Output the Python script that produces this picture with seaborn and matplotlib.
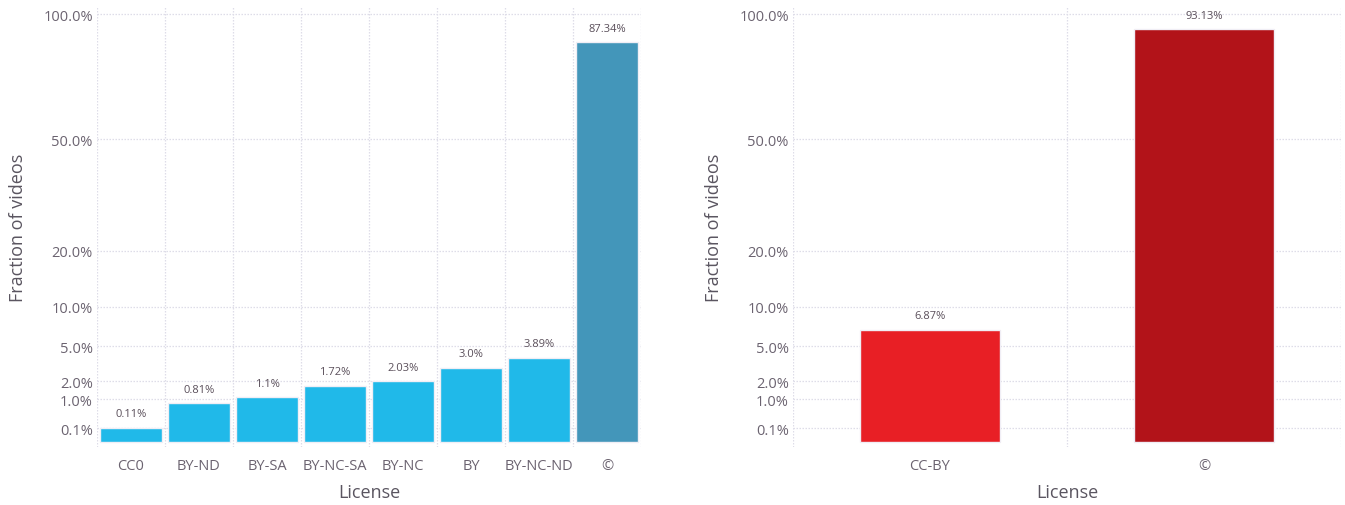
import numpy as np
import pandas as pd
import matplotlib
matplotlib.use("Agg")
import matplotlib.pyplot as plt
import seaborn as sns
from matplotlib.ticker import FixedLocator

sns.set_theme(style="white")
plt.rcParams['font.family'] = ['Open Sans', 'DejaVu Sans']

# Data
left_licenses = ["CC0", "BY-ND", "BY-SA", "BY-NC-SA", "BY-NC", "BY", "BY-NC-ND", "©"]
left_values = [0.11, 0.81, 1.1, 1.72, 2.03, 3.0, 3.89, 87.34]
left_labels = ["0.11%", "0.81%", "1.1%", "1.72%", "2.03%", "3.0%", "3.89%", "87.34%"]
left_colors = ["#20b9e9"] * 7 + ["#4396ba"]

right_licenses = ["CC-BY", "©"]
right_values = [6.87, 93.13]
right_labels = ["6.87%", "93.13%"]
right_colors = ["#e81f25", "#b21319"]

ytick_vals = [0.1, 1.0, 2.0, 5.0, 10.0, 20.0, 50.0, 100.0]
ytick_labels = ["0.1%", "1.0%", "2.0%", "5.0%", "10.0%", "20.0%", "50.0%", "100.0%"]

TXT = "#6b6370"
GRID = "#dedde8"


def fwd(x):
    x = np.asarray(x, dtype=float)
    return np.sign(x) * np.sqrt(np.abs(x))


def inv(y):
    y = np.asarray(y, dtype=float)
    return np.sign(y) * y ** 2


fig = plt.figure(figsize=(13.45, 5.06), dpi=100)
ax1 = fig.add_axes([97 / 1345, 1 - 448 / 506, (641 - 97) / 1345, (448 - 7) / 506])
ax2 = fig.add_axes([793 / 1345, 1 - 448 / 506, (1341 - 793) / 1345, (448 - 7) / 506])


def draw(ax, cats, vals, labels, colors, width):
    df = pd.DataFrame({"License": cats, "Fraction": vals})
    sns.barplot(data=df, x="License", y="Fraction", hue="License", order=cats,
                hue_order=cats, palette=colors, legend=False, width=width,
                edgecolor="#f0eef5", linewidth=1.0, ax=ax, saturation=1)
    ax.set_yscale("function", functions=(fwd, inv))
    ax.set_ylim(-0.0137, 103.8)
    n = len(cats)
    ax.set_xlim(-0.5, n - 0.5)
    ax.yaxis.set_major_locator(FixedLocator(ytick_vals))
    ax.set_yticklabels(ytick_labels)
    ax.yaxis.set_minor_locator(FixedLocator([]))
    ax.xaxis.set_minor_locator(FixedLocator(np.arange(n + 1) - 0.5))
    ax.grid(False)
    ax.grid(axis="y", which="major", color=GRID, linestyle=(0, (1.2, 1.2)), linewidth=0.9)
    ax.grid(axis="x", which="minor", color=GRID, linestyle=(0, (1.2, 1.2)), linewidth=0.9)
    ax.set_axisbelow(True)
    for s in ax.spines.values():
        s.set_visible(False)
    ax.tick_params(axis="both", which="both", length=0, colors=TXT, labelsize=10.5)
    ax.tick_params(axis="x", pad=8)
    ax.tick_params(axis="y", pad=3)
    ax.set_xlabel("License", fontsize=13, color="#5a5560", labelpad=7)
    ax.set_ylabel("Fraction of videos", fontsize=13, color="#5a5560", labelpad=12)
    for i, (v, lab) in enumerate(zip(vals, labels)):
        ax.annotate(lab, xy=(i, v), xytext=(0, 10), textcoords="offset points",
                    ha="center", va="center", fontsize=8, color="#5a4f5a")


draw(ax1, left_licenses, left_values, left_labels, left_colors, 0.91)
draw(ax2, right_licenses, right_values, right_labels, right_colors, 0.51)

fig.savefig("out.png", dpi=100)
